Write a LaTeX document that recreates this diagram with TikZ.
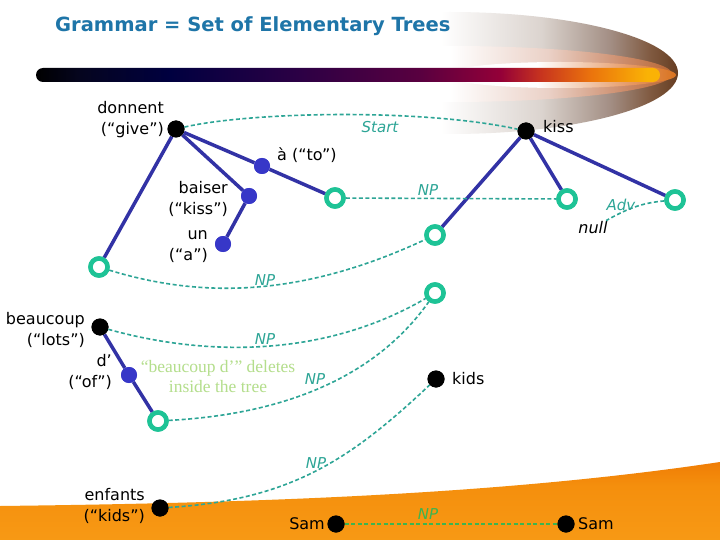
\documentclass[tikz,border=0pt]{standalone}
\usepackage{fontspec}
\setmainfont{DejaVu Sans}
\newfontfamily\serifann{Liberation Serif}
\usetikzlibrary{shapes.geometric}

\definecolor{titleblue}{RGB}{30,117,168}
\definecolor{treeblue}{RGB}{50,50,165}
\definecolor{nodeblue}{RGB}{55,55,200}
\definecolor{ringgreen}{RGB}{30,195,150}
\definecolor{dashteal}{RGB}{45,165,150}
\definecolor{samgreen}{RGB}{60,180,80}
\definecolor{anngreen}{RGB}{180,222,140}

\pgfdeclarehorizontalshading{barshade}{100bp}{rgb(0bp)=(0,0,0); rgb(25bp)=(0,0,0); rgb(28.5bp)=(0.02,0.02,0.12); rgb(35.7bp)=(0,0,0.25); rgb(46bp)=(0.17,0,0.27); rgb(55.8bp)=(0.35,0,0.25); rgb(62.2bp)=(0.58,0,0.22); rgb(65.4bp)=(0.78,0.2,0.12); rgb(69.4bp)=(0.92,0.45,0.05); rgb(74bp)=(0.98,0.7,0.02); rgb(100bp)=(0.98,0.7,0.02)}
\pgfdeclarehorizontalshading{swouter}{100bp}{rgb(0bp)=(1,1,1); rgb(49bp)=(1,1,1); rgb(60bp)=(0.86,0.83,0.81); rgb(67.5bp)=(0.64,0.56,0.52); rgb(72bp)=(0.5,0.35,0.25); rgb(75bp)=(0.4,0.24,0.13); rgb(100bp)=(0.4,0.24,0.13)}
\pgfdeclarehorizontalshading{swinner}{100bp}{rgb(0bp)=(1,1,1); rgb(50bp)=(1,1,1); rgb(61bp)=(0.92,0.82,0.78); rgb(69.5bp)=(0.8,0.55,0.42); rgb(75bp)=(0.72,0.4,0.2); rgb(100bp)=(0.72,0.4,0.2)}
\pgfdeclarehorizontalshading{swglow}{100bp}{rgb(0bp)=(1,1,1); rgb(45bp)=(1,1,1); rgb(65bp)=(0.9,0.6,0.4); rgb(75bp)=(0.85,0.45,0.12); rgb(100bp)=(0.85,0.45,0.12)}
\pgfdeclareverticalshading{orangeshade}{100bp}{rgb(0bp)=(0.97,0.6,0.08); rgb(25bp)=(0.97,0.6,0.08); rgb(60bp)=(0.96,0.56,0.05); rgb(75bp)=(0.94,0.49,0.02); rgb(100bp)=(0.94,0.49,0.02)}

\tikzset{
  blk/.style={circle, fill=black, minimum size=17pt, inner sep=0pt},
  bluenode/.style={circle, fill=nodeblue, minimum size=16pt, inner sep=0pt},
  openring/.style={circle, draw=ringgreen, line width=4.5pt, fill=white, minimum size=17pt, inner sep=0pt},
  treeline/.style={draw=treeblue, line width=3.5pt},
  subst/.style={draw=dashteal, line width=1.6pt, dash pattern=on 4pt off 2.5pt},
  samdash/.style={draw=samgreen, line width=1.4pt, dash pattern=on 4pt off 2.5pt},
  lbl/.style={font=\fontsize{16}{21}\selectfont, inner sep=0pt, text=black},
  nplbl/.style={font=\fontsize{15}{17}\selectfont\itshape, text=dashteal, inner sep=0pt},
}

\begin{document}
\begin{tikzpicture}[x=1pt, y=-1pt]
\useasboundingbox (0,0) rectangle (720,540);
\fill[white] (0,0) rectangle (720,540);

% bottom orange area
\path[shading=orangeshade] (0,506) .. controls (250,503) and (500,495) .. (720,462) -- (720,540) -- (0,540) -- cycle;

% swoosh
\path[shading=swouter] (450,73) ellipse [x radius=228, y radius=61];
\path[shading=swinner] (450,74) ellipse [x radius=222, y radius=28];
\path[shading=swglow] (560,75) ellipse [x radius=116, y radius=13];
% bar
\path[shading=barshade, rounded corners=7pt] (36,68) rectangle (660,82);

% title
\node[anchor=base west, inner sep=0pt, text=titleblue, font=\fontsize{19.5}{22}\selectfont\bfseries] (title) at (55,32) {Grammar = Set of Elementary Trees};

% nodes
\node[blk] (D) at (176,129) {};
\node[blk] (K) at (526,131) {};
\node[bluenode] (A) at (262,166) {};
\node[bluenode] (B) at (249,196) {};
\node[bluenode] (U) at (223,244) {};
\node[openring] (RA) at (335,198) {};
\node[openring] (RL) at (99,267) {};
\node[openring] (RK1) at (435,235) {};
\node[openring] (RK2) at (567,199) {};
\node[openring] (RK3) at (675,200) {};
\node[openring] (RM) at (435,293) {};
\node[blk] (KD) at (436,379) {};
\node[blk] (BC) at (100,327) {};
\node[bluenode] (DE) at (129,375) {};
\node[openring] (RB) at (158,421) {};
\node[blk] (EN) at (160,508) {};
\node[blk] (S1) at (336,524) {};
\node[blk] (S2) at (566,524) {};
\node[inner sep=1pt, font=\fontsize{16}{18}\selectfont\itshape] (null) at (593,228) {null};

% tree edges
\draw[treeline] (D) -- (RL);
\draw[treeline] (D) -- (B);
\draw[treeline] (D) -- (A);
\draw[treeline] (A) -- (RA);
\draw[treeline] (B) -- (U);
\draw[treeline] (K) -- (RK1);
\draw[treeline] (K) -- (RK2);
\draw[treeline] (K) -- (RK3);
\draw[treeline] (BC) -- (DE);
\draw[treeline] (DE) -- (RB);

% substitution / adjunction links
\draw[subst] (D) .. controls (250,112) and (420,108) .. (K);
\draw[subst] (RA) -- (RK2);
\draw[subst] (RK3) .. controls (640,203) and (625,210) .. (null);
\draw[subst] (RL) .. controls (200,298) and (300,298) .. (RK1);
\draw[subst] (BC) .. controls (200,355) and (320,360) .. (RM);
\draw[subst] (RB) .. controls (270,415) and (370,385) .. (RM);
\draw[subst] (EN) .. controls (290,500) and (350,460) .. (KD);
\draw[samdash] (S1) -- (S2);

% redraw nodes over links
\foreach \n in {D,K,KD,BC,EN,S1,S2} {\fill[black] (\n) circle (8.5pt);}
\foreach \n in {A,B,U,DE} {\fill[nodeblue] (\n) circle (8pt);}
\foreach \n in {RA,RL,RK1,RK2,RK3,RM,RB} {\draw[ringgreen, line width=4.5pt, fill=white] (\n) circle (8.5pt);}

% link labels
\node[nplbl] (lstart) at (380,127) {Start};
\node[nplbl] (lnp1) at (428,190) {NP};
\node[nplbl] (ladv) at (621,205) {Adv};
\node[nplbl] (lnp2) at (265,280) {NP};
\node[nplbl] (lnp3) at (265,339) {NP};
\node[nplbl] (lnp4) at (315,379) {NP};
\node[nplbl] (lnp5) at (316,463) {NP};
\node[nplbl, text=samgreen] (lnp6) at (428,514) {NP};

% word labels
\node[lbl, anchor=east, align=right] (tdonnent) at (164,120) {donnent\\(“give”)};
\node[lbl, anchor=west] (tkiss) at (543,127) {kiss};
\node[lbl, anchor=west] (ta) at (277,155) {à (“to”)};
\node[lbl, anchor=east, align=right] (tbaiser) at (228,199) {baiser\\(“kiss”)};
\node[lbl, anchor=east, align=right] (tun) at (208,247) {un\\(“a”)};
\node[lbl, anchor=east, align=right] (tbeaucoup) at (85,330) {beaucoup\\(“lots”)};
\node[lbl, anchor=east, align=right] (tde) at (112,372) {d’\\(“of”)};
\node[lbl, anchor=west] (tkids) at (452,379) {kids};
\node[lbl, anchor=east, align=right] (tenfants) at (145,506) {enfants\\(“kids”)};
\node[lbl, anchor=east] (tsam1) at (325,524) {Sam};
\node[lbl, anchor=west] (tsam2) at (578,524) {Sam};

% annotation
\node[text=anngreen, align=center, inner sep=0pt, font=\serifann\fontsize{17.5}{20}\selectfont] (ann) at (218,377) {“beaucoup d’” deletes\\inside the tree};
\end{tikzpicture}
\end{document}
